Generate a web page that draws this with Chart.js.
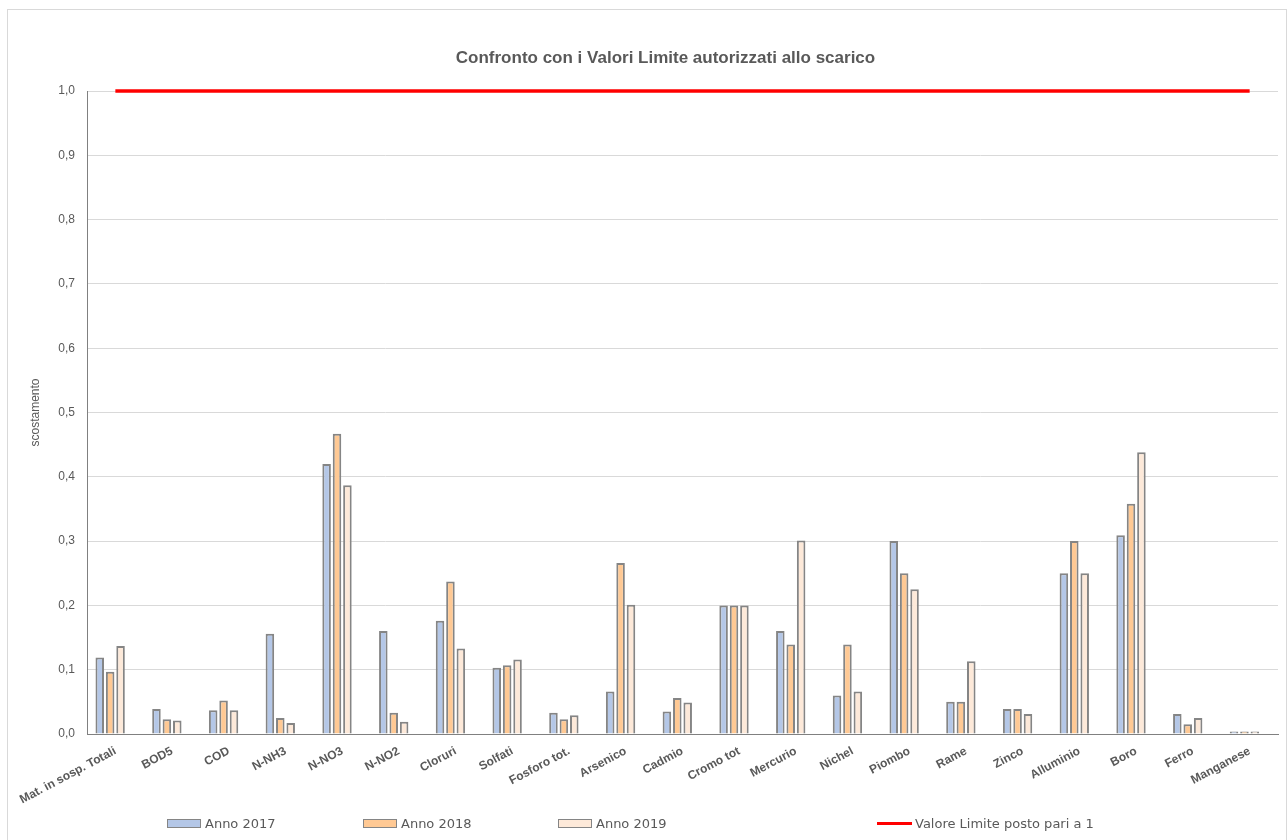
<!DOCTYPE html>
<html lang="it">
<head>
<meta charset="utf-8">
<title>Confronto con i Valori Limite autorizzati allo scarico</title>
<script src="https://cdn.jsdelivr.net/npm/chart.js@4/dist/chart.umd.min.js"></script>
<style>
  html, body { margin: 0; padding: 0; background: #ffffff; }
  #wrap { position: relative; width: 1287px; height: 840px; }
</style>
</head>
<body>
<div id="wrap"><canvas id="grafico" width="1287" height="840"></canvas></div>
<script>
// Parametri analizzati allo scarico
const categories = [
  'Mat. in sosp. Totali', 'BOD5', 'COD', 'N-NH3', 'N-NO3', 'N-NO2', 'Cloruri',
  'Solfati', 'Fosforo tot.', 'Arsenico', 'Cadmio', 'Cromo tot', 'Mercurio',
  'Nichel', 'Piombo', 'Rame', 'Zinco', 'Alluminio', 'Boro', 'Ferro', 'Manganese'
];

// Scostamento rispetto al valore limite (limite = 1)
const anno2017 = [0.119, 0.039, 0.037, 0.156, 0.420, 0.160, 0.176, 0.103, 0.033, 0.066, 0.035,
                  0.200, 0.160, 0.060, 0.300, 0.050, 0.039, 0.250, 0.309, 0.031, 0.004];
const anno2018 = [0.097, 0.023, 0.052, 0.025, 0.467, 0.033, 0.237, 0.107, 0.023, 0.266, 0.056,
                  0.200, 0.139, 0.139, 0.250, 0.050, 0.039, 0.300, 0.358, 0.015, 0.004];
const anno2019 = [0.137, 0.021, 0.037, 0.017, 0.387, 0.019, 0.133, 0.116, 0.029, 0.201, 0.049,
                  0.200, 0.301, 0.066, 0.225, 0.113, 0.031, 0.250, 0.438, 0.025, 0.004];
const valoreLimite = [1, 1, 1, 1, 1, 1, 1, 1, 1, 1, 1, 1, 1, 1, 1, 1, 1, 1, 1, 1, 1];

// Serie vuota: occupa il quarto posto del gruppo di colonne
const serieVuota = categories.map(() => null);

const seriesNames = ['Anno 2017', 'Anno 2018', 'Anno 2019', 'Valore Limite posto pari a 1'];
const yMin = 0, yMax = 1, yStep = 0.1;

const SANS = '"Liberation Sans Narrow", "Arial Narrow", "Liberation Sans", Arial, sans-serif';
const LEGEND_FONT = '"DejaVu Sans", Verdana, sans-serif';
const GREY_TEXT = '#595959';
const BAR_EDGE = '#858585';

const colonne = (label, data, fill) => ({
  type: 'bar', label, data,
  backgroundColor: fill, borderColor: BAR_EDGE, borderWidth: 2,
  categoryPercentage: 0.734, barPercentage: 0.82, order: 2
});

// Cornice, titolo e legenda disegnati sul canvas
const cornice = {
  id: 'cornice',
  beforeDraw(chart) {
    const ctx = chart.ctx;
    ctx.save();
    ctx.fillStyle = '#ffffff';
    ctx.fillRect(0, 0, chart.width, chart.height);
    ctx.strokeStyle = '#d9d9d9';
    ctx.lineWidth = 1;
    ctx.strokeRect(7.5, 9.5, chart.width - 8, chart.height + 10);
    ctx.restore();
  },
  afterDraw(chart) {
    const ctx = chart.ctx;
    const area = chart.chartArea;
    ctx.save();
    // titolo
    ctx.fillStyle = GREY_TEXT;
    ctx.font = 'bold 17px ' + SANS;
    ctx.textAlign = 'center';
    ctx.textBaseline = 'middle';
    ctx.fillText('Confronto con i Valori Limite autorizzati allo scarico', (area.left + area.right) / 2 - 17, 58);

    // legenda
    const voci = [
      { ds: 0, x: 167 }, { ds: 1, x: 363 }, { ds: 2, x: 558 }, { ds: 4, x: 877 }
    ];
    const yLeg = 825;
    ctx.font = '13px ' + LEGEND_FONT;
    ctx.textAlign = 'left';
    voci.forEach(v => {
      const ds = chart.data.datasets[v.ds];
      if (ds.type === 'line') {
        ctx.strokeStyle = ds.borderColor;
        ctx.lineWidth = 3;
        ctx.beginPath();
        ctx.moveTo(v.x, yLeg - 1.5);
        ctx.lineTo(v.x + 35, yLeg - 1.5);
        ctx.stroke();
      } else {
        ctx.fillStyle = ds.backgroundColor;
        ctx.fillRect(v.x + 0.5, yLeg - 5.5, 33, 8);
        ctx.strokeStyle = BAR_EDGE;
        ctx.lineWidth = 1;
        ctx.strokeRect(v.x + 0.5, yLeg - 5.5, 33, 8);
      }
      ctx.fillStyle = GREY_TEXT;
      ctx.fillText(ds.label, v.x + 38, yLeg);
    });
    ctx.restore();
  }
};

new Chart(document.getElementById('grafico'), {
  data: {
    labels: categories,
    datasets: [
      colonne(seriesNames[0], anno2017, '#b4c7e7'),
      colonne(seriesNames[1], anno2018, '#ffc994'),
      colonne(seriesNames[2], anno2019, '#fde9d9'),
      colonne('', serieVuota, 'rgba(0,0,0,0)'),
      {
        type: 'line', label: seriesNames[3], data: valoreLimite,
        borderColor: '#ff0000', borderWidth: 3.5, pointRadius: 0, fill: false,
        clip: false, order: 0
      }
    ]
  },
  options: {
    responsive: false,
    animation: false,
    devicePixelRatio: 1,
    layout: { padding: { left: 0, right: 9, top: 91, bottom: 0 } },
    plugins: {
      legend: { display: false },
      title: { display: false },
      tooltip: { enabled: false }
    },
    scales: {
      x: {
        type: 'category',
        grid: { display: false },
        border: { color: '#808080', width: 1 },
        ticks: {
          autoSkip: false, maxRotation: 28, minRotation: 28, padding: 2,
          color: GREY_TEXT, font: { family: SANS, size: 12, weight: 'bold' }
        },
        afterFit(scale) { scale.height = 106; }
      },
      y: {
        min: yMin, max: yMax,
        grid: { color: '#d9d9d9', lineWidth: 1, drawTicks: false },
        border: { color: '#808080', width: 1 },
        ticks: {
          stepSize: yStep, padding: 12, color: GREY_TEXT,
          font: { family: SANS, size: 12 },
          callback: v => Number(v).toFixed(1).replace('.', ',')
        },
        title: {
          display: true, text: 'scostamento', color: GREY_TEXT,
          font: { family: SANS, size: 12 }, padding: { top: 28, bottom: 0 }
        },
        afterFit(scale) { scale.width = 87; }
      }
    }
  },
  plugins: [cornice]
});
</script>
</body>
</html>
